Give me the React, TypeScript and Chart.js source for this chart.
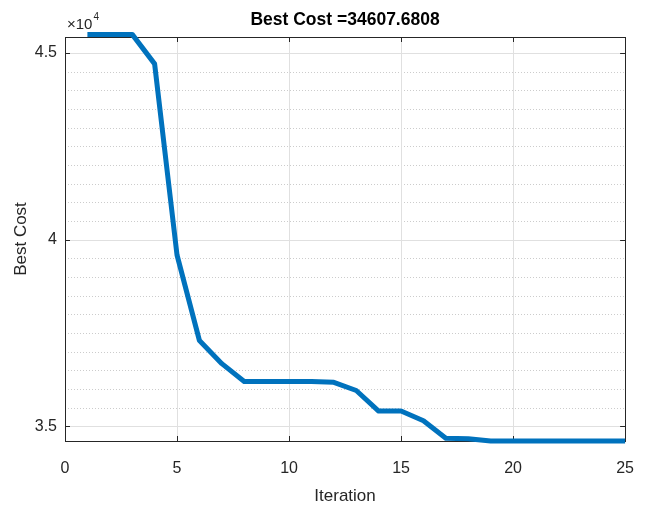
import React, { useEffect, useRef } from "react";
import { Chart, registerables } from "chart.js";

Chart.register(...registerables);

const ITERATIONS = [1, 2, 3, 4, 5, 6, 7, 8, 9, 10, 11, 12, 13, 14, 15, 16, 17, 18, 19, 20, 21, 22, 23, 24, 25];
const BEST_COST = [
  45500, 45500, 45500, 44710, 39590, 37300, 36680, 36200, 36200, 36200,
  36200, 36180, 35960, 35410, 35410, 35150, 34680, 34670, 34607.6808, 34607.6808,
  34607.6808, 34607.6808, 34607.6808, 34607.6808, 34607.6808,
];
const X_TICKS = [0, 5, 10, 15, 20, 25];
const Y_TICKS = [35000, 40000, 45000];
const Y_MINOR = [
  35000, 35500, 36000, 36500, 37000, 37500, 38000, 38500, 39000, 39500, 40000,
  40500, 41000, 41500, 42000, 42500, 43000, 43500, 44000, 44500, 45000,
];
const TITLE = "Best Cost =34607.6808";
const X_LABEL = "Iteration";
const Y_LABEL = "Best Cost";
const Y_EXP = "4";

const FONT = "'Liberation Sans', Arial, sans-serif";
const TEXT = "#262626";

const matlabAxes = {
  id: "matlabAxes",
  beforeDatasetsDraw(chart: any) {
    const { ctx, chartArea, scales } = chart;
    const { left, right, top, bottom } = chartArea;
    const xs = scales.x;
    const ys = scales.y;
    ctx.save();
    ctx.lineWidth = 1;
    ctx.strokeStyle = "#cccccc";
    ctx.setLineDash([1, 2]);
    Y_MINOR.forEach((v) => {
      if (Y_TICKS.includes(v)) return;
      const py = Math.round(ys.getPixelForValue(v)) + 0.5;
      ctx.beginPath();
      ctx.moveTo(left, py);
      ctx.lineTo(right, py);
      ctx.stroke();
    });
    ctx.setLineDash([]);
    ctx.strokeStyle = "#e0e0e0";
    Y_TICKS.forEach((v) => {
      const py = Math.round(ys.getPixelForValue(v)) + 0.5;
      ctx.beginPath();
      ctx.moveTo(left, py);
      ctx.lineTo(right, py);
      ctx.stroke();
    });
    X_TICKS.forEach((v) => {
      const px = Math.round(xs.getPixelForValue(v)) + 0.5;
      ctx.beginPath();
      ctx.moveTo(px, top);
      ctx.lineTo(px, bottom);
      ctx.stroke();
    });
    ctx.strokeStyle = TEXT;
    ctx.lineWidth = 1;
    ctx.strokeRect(Math.round(left) + 0.5, Math.round(top) + 0.5, Math.round(right - left), Math.round(bottom - top));
    const tl = 5;
    X_TICKS.forEach((v) => {
      const px = Math.round(xs.getPixelForValue(v)) + 0.5;
      ctx.beginPath();
      ctx.moveTo(px, bottom);
      ctx.lineTo(px, bottom - tl);
      ctx.moveTo(px, top);
      ctx.lineTo(px, top + tl);
      ctx.stroke();
    });
    Y_TICKS.forEach((v) => {
      const py = Math.round(ys.getPixelForValue(v)) + 0.5;
      ctx.beginPath();
      ctx.moveTo(left, py);
      ctx.lineTo(left + tl, py);
      ctx.moveTo(right, py);
      ctx.lineTo(right - tl, py);
      ctx.stroke();
    });
    ctx.restore();
  },
  afterDraw(chart: any) {
    const { ctx, chartArea } = chart;
    ctx.save();
    // title centred over the plot area
    ctx.fillStyle = "#000";
    ctx.textAlign = "center";
    ctx.textBaseline = "middle";
    ctx.font = `bold 17.5px ${FONT}`;
    ctx.fillText(TITLE, (chartArea.left + chartArea.right) / 2, 20);
    // exponent label
    ctx.fillStyle = TEXT;
    ctx.textBaseline = "alphabetic";
    ctx.textAlign = "left";
    ctx.font = `15px ${FONT}`;
    const x0 = chartArea.left + 2;
    ctx.fillText("\u00d710", x0, 29);
    const w = ctx.measureText("\u00d710").width;
    ctx.font = `10px ${FONT}`;
    ctx.fillText(Y_EXP, x0 + w + 1, 20);
    ctx.restore();
  },
};

export default function App() {
  const ref = useRef<HTMLCanvasElement | null>(null);
  useEffect(() => {
    document.body.style.margin = "0";
    const canvas = ref.current;
    if (!canvas) return;
    const chart = new Chart(canvas, {
      type: "line",
      data: {
        datasets: [
          {
            data: ITERATIONS.map((it, i) => ({ x: it, y: BEST_COST[i] })),
            borderColor: "#0072BD",
            backgroundColor: "#0072BD",
            borderWidth: 5,
            pointRadius: 0,
            tension: 0,
            fill: false,
            clip: false,
            borderJoinStyle: "round",
          } as any,
        ],
      },
      options: {
        responsive: false,
        animation: false,
        layout: { padding: { left: 0, right: 25, top: 37, bottom: 0 } },
        plugins: {
          legend: { display: false },
          tooltip: { enabled: false },
          title: { display: false },
        },
        scales: {
          x: {
            type: "linear",
            min: 0,
            max: 25,
            grid: { display: false, drawTicks: false },
            border: { display: false },
            afterBuildTicks: (scale: any) => {
              scale.ticks = X_TICKS.map((v) => ({ value: v }));
            },
            afterFit: (scale: any) => {
              scale.height = 68;
            },
            ticks: {
              color: TEXT,
              padding: 18,
              maxRotation: 0,
              font: { family: FONT, size: 16 },
            },
            title: {
              display: true,
              text: X_LABEL,
              color: TEXT,
              font: { family: FONT, size: 17 },
              padding: { top: 0, bottom: 2 },
            },
          },
          y: {
            type: "linear",
            min: 34607.6808,
            max: 45430,
            grid: { display: false, drawTicks: false },
            border: { display: false },
            afterBuildTicks: (scale: any) => {
              scale.ticks = Y_TICKS.map((v) => ({ value: v }));
            },
            afterFit: (scale: any) => {
              scale.width = 65;
            },
            ticks: {
              color: TEXT,
              padding: 8,
              font: { family: FONT, size: 16 },
              callback: (v: any) => String(Number(v) / 10000),
            },
            title: {
              display: true,
              text: Y_LABEL,
              color: TEXT,
              font: { family: FONT, size: 17 },
              padding: { top: 11, bottom: 0 },
            },
          },
        },
      },
      plugins: [matlabAxes],
    });
    return () => chart.destroy();
  }, []);
  return <canvas ref={ref} width={652} height={509} style={{ display: "block" }} />;
}
